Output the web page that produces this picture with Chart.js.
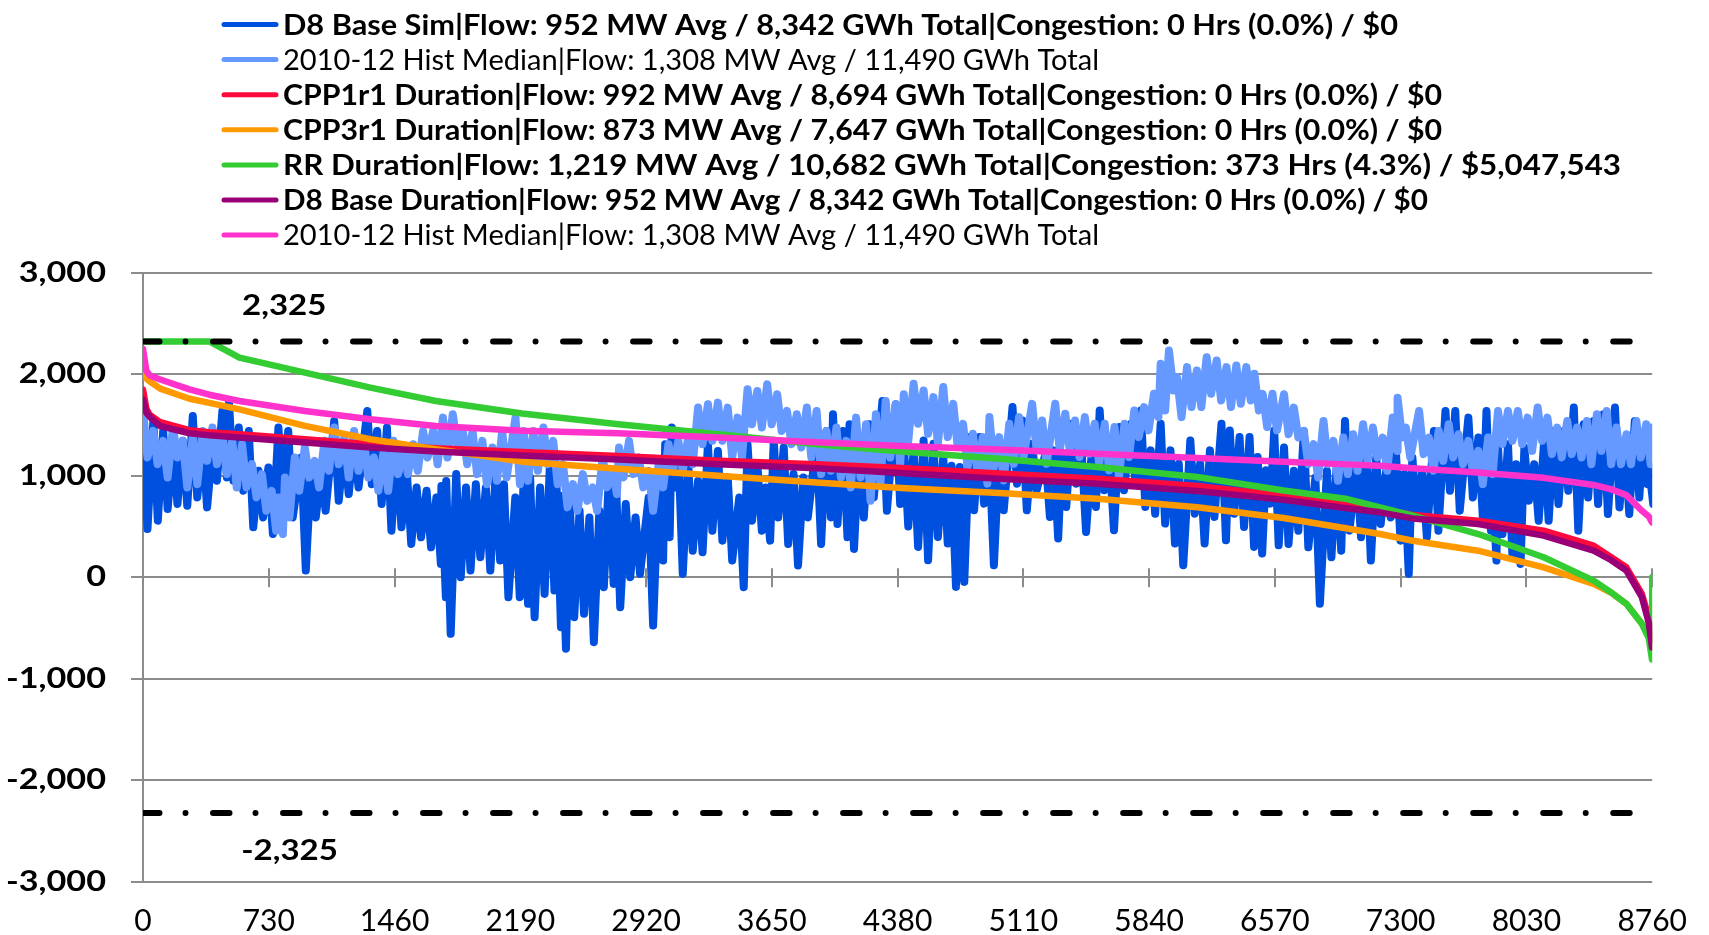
<!DOCTYPE html>
<html>
<head>
<meta charset="utf-8">
<title>Flow duration</title>
<script src="https://cdn.jsdelivr.net/npm/chart.js@4.4.1/dist/chart.umd.min.js"></script>
<style>
  html, body { margin: 0; padding: 0; background: #fff; }
</style>
</head>
<body>
<canvas id="flowChart" width="1709" height="935"></canvas>
<script>
// legend rows (top to bottom)
const seriesNames = [
    "D8 Base Sim|Flow: 952 MW Avg / 8,342 GWh Total|Congestion: 0 Hrs (0.0%) / $0",
    "2010-12 Hist Median|Flow: 1,308 MW Avg / 11,490 GWh Total",
    "CPP1r1 Duration|Flow: 992 MW Avg / 8,694 GWh Total|Congestion: 0 Hrs (0.0%) / $0",
    "CPP3r1 Duration|Flow: 873 MW Avg / 7,647 GWh Total|Congestion: 0 Hrs (0.0%) / $0",
    "RR Duration|Flow: 1,219 MW Avg / 10,682 GWh Total|Congestion: 373 Hrs (4.3%) / $5,047,543",
    "D8 Base Duration|Flow: 952 MW Avg / 8,342 GWh Total|Congestion: 0 Hrs (0.0%) / $0",
    "2010-12 Hist Median|Flow: 1,308 MW Avg / 11,490 GWh Total"
];
const seriesColors = ["#0050E0", "#6699FF", "#FF0A3C", "#FF9900", "#33CC33", "#990077", "#FF33CC"];
const boldRows = [true, false, true, true, true, true, false];

const xTicks = [0, 730, 1460, 2190, 2920, 3650, 4380, 5110, 5840, 6570, 7300, 8030, 8760];
const yTicks = [-3000, -2000, -1000, 0, 1000, 2000, 3000];

// transfer limit
const limitHours = [0, 8760];
const limitUpper = [2325, 2325];
const limitLower = [-2325, -2325];
const limitLabels = ["2,325", "-2,325"];

// D8 Base Sim, hourly flow: high / low swing read at each hour mark
const simHours = [0, 60, 117, 174, 231, 289, 346, 403, 461, 499, 556, 614, 671, 728, 786, 843, 919, 977, 1034, 1110,
    1168, 1225, 1302, 1359, 1416, 1474, 1531, 1588, 1646, 1703, 1732, 1760, 1818, 1875, 1932, 1990, 2047, 2095, 2161,
    2209, 2247, 2305, 2362, 2400, 2429, 2477, 2534, 2591, 2649, 2706, 2744, 2802, 2859, 2935, 2993, 3031, 3069, 3107, 3165,
    3222, 3279, 3337, 3394, 3461, 3509, 3566, 3614, 3661, 3719, 3776, 3833, 3910, 3967, 4005, 4063, 4101, 4158, 4216, 4292, 4369,
    4416, 4473, 4531, 4588, 4645, 4693, 4741, 4798, 4856, 4913, 4970, 5047, 5104, 5161, 5238, 5286, 5333, 5391, 5448, 5505,
    5553, 5610, 5668, 5735, 5792, 5849, 5907, 5964, 6012, 6079, 6136, 6193, 6260, 6308, 6365, 6423, 6470, 6518, 6566,
    6623, 6680, 6738, 6805, 6872, 6929, 6977, 7044, 7101, 7158, 7216, 7273, 7321, 7368, 7426, 7493, 7560, 7617, 7693, 7751,
    7798, 7830, 7865, 7923, 7970, 8018, 8075, 8133, 8190, 8247, 8305, 8362, 8420, 8477, 8544, 8601, 8659, 8706, 8740];
const simHigh = [1607, 1541, 1443, 1312, 1345, 1591, 1345, 1279, 1640, 1722, 1476, 1443, 1050, 1082, 1476, 1443, 1181, 1115, 1050, 1541,
    1312, 1345, 1640, 1443, 1476, 1279, 1050, 886, 853, 787, 900, 950, 1017, 886, 918, 886, 1017, 918, 787,
    951, 984, 886, 1115, 918, 800, 754, 656, 590, 656, 1050, 1017, 722, 590, 787, 984, 1312, 1476, 1279, 1115,
    951, 1312, 1246, 984, 787, 1312, 1115, 886, 1345, 1279, 1017, 984, 1345, 1443, 1607, 1443, 1509, 1378, 1509, 1738, 1706,
    1316, 1251, 1349, 1316, 1185, 1100, 1087, 1382, 1382, 1185, 1251, 1678, 1546, 1316, 1218, 1251, 1218, 1513, 1251, 1185,
    1645, 1185, 1481, 1513, 1645, 1251, 1513, 1251, 1119, 1349, 1119, 1251, 1513, 1448, 1382, 1382, 1185, 1054, 1448,
    1279, 1050, 1443, 984, 1050, 1115, 1541, 1115, 1279, 1181, 1050, 1214, 1017, 1181, 1050, 1443, 1640, 1640, 1574, 1378,
    1640, 1100, 1279, 1312, 1115, 1279, 1115, 1345, 1443, 1443, 1673, 1509, 1541, 1607, 1673, 1345, 1541, 1312, 1115];
const simLow = [476, 558, 672, 722, 705, 787, 689, 951, 984, 951, 853, 492, 590, 426, 787, 590, 66, 590, 656, 754,
    820, 886, 918, 722, 459, 492, 328, 394, 295, 131, -197, -558, 0, 66, 197, 66, 164, -197, -197,
    -262, -394, -164, -131, -492, -705, -394, -361, -640, -98, -66, -295, 0, 33, -476, 164, 394, 886, 33, 262,
    246, 459, 361, 164, -98, 558, 459, 361, 590, 328, 115, 590, 328, 590, 525, 394, 279, 590, 787, 656, 722,
    500, 299, 167, 397, 332, -95, -46, 660, 726, 118, 660, 923, 660, 857, 594, 381, 693, 923, 447, 693,
    857, 463, 857, 923, 693, 627, 529, 332, 118, 627, 332, 594, 364, 627, 496, 299, 233, 726, 315,
    328, 459, 295, -262, 197, 262, 459, 394, 164, 525, 590, 361, 33, 590, 394, 459, 853, 656, 787, 590,
    459, 164, 426, 197, 131, 754, 558, 558, 722, 853, 459, 787, 722, 623, 689, 623, 787, 918, 722];

// 2010-12 Hist Median, hourly flow
const histHours = [0, 59, 117, 174, 231, 289, 346, 403, 461, 518, 575, 633, 690, 747, 786, 824, 881, 939, 996, 1053,
    1110, 1168, 1225, 1282, 1340, 1397, 1454, 1512, 1569, 1626, 1684, 1741, 1798, 1856, 1913, 1970, 2028, 2085, 2162, 2209,
    2266, 2324, 2381, 2438, 2496, 2553, 2610, 2668, 2725, 2763, 2821, 2878, 2935, 2993, 3050, 3107, 3165, 3222, 3279, 3337,
    3394, 3451, 3509, 3566, 3623, 3681, 3738, 3795, 3853, 3910, 3967, 4025, 4082, 4139, 4197, 4254, 4311, 4369,
    4416, 4473, 4531, 4588, 4645, 4703, 4760, 4817, 4875, 4913, 4970, 5028, 5085, 5161, 5219, 5295, 5353, 5410, 5467, 5524,
    5582, 5639, 5697, 5754, 5811, 5868, 5907, 5955, 6002, 6060, 6117, 6174, 6232, 6289, 6346, 6404, 6451, 6499, 6556,
    6623, 6680, 6738, 6795, 6852, 6910, 6967, 7024, 7082, 7139, 7196, 7254, 7282, 7330, 7407, 7464, 7521, 7579, 7636, 7693,
    7751, 7808, 7865, 7923, 7980, 8037, 8095, 8152, 8209, 8267, 8324, 8381, 8439, 8496, 8553, 8611, 8668, 8725, 8755];
const histHigh = [1640, 1443, 1345, 1476, 1345, 1378, 1443, 1476, 1410, 1345, 1312, 1115, 1017, 853, 787, 984, 1181, 1279, 1148, 1345,
    1476, 1378, 1443, 1345, 1181, 1246, 1345, 1279, 1312, 1443, 1443, 1574, 1607, 1443, 1443, 1345, 1279, 1443, 1574, 1443,
    1443, 1476, 1345, 1115, 918, 1017, 886, 1181, 1050, 1279, 1345, 1181, 1050, 1115, 1312, 1345, 1378, 1673, 1706, 1722,
    1673, 1574, 1853, 1837, 1902, 1804, 1640, 1607, 1673, 1640, 1443, 1476, 1345, 1574, 1509, 1607, 1738, 1706,
    1804, 1907, 1842, 1776, 1875, 1710, 1513, 1415, 1382, 1579, 1382, 1513, 1579, 1710, 1546, 1710, 1612, 1546, 1579, 1513,
    1513, 1481, 1513, 1645, 1678, 1809, 2104, 2236, 1973, 2072, 2039, 2170, 2137, 2072, 2088, 2072, 2006, 1809, 1809,
    1804, 1673, 1443, 1312, 1541, 1345, 1378, 1410, 1509, 1476, 1378, 1574, 1771, 1476, 1640, 1378, 1443, 1509, 1410, 1345,
    1246, 1378, 1640, 1640, 1640, 1574, 1673, 1574, 1476, 1541, 1476, 1541, 1607, 1640, 1476, 1410, 1541, 1509, 1476];
const histLow = [1181, 1115, 984, 1181, 886, 918, 1148, 1115, 1017, 886, 886, 787, 656, 459, 426, 590, 853, 984, 886, 1050,
    1115, 984, 1050, 984, 853, 853, 1017, 1017, 1050, 1181, 1115, 1181, 1312, 1115, 1017, 918, 951, 984, 918, 951,
    1050, 1115, 918, 689, 656, 754, 656, 886, 820, 984, 1017, 886, 656, 886, 1050, 1050, 1115, 1312, 1345, 1345,
    1181, 1181, 1509, 1476, 1509, 1443, 1312, 1279, 1181, 1017, 1050, 984, 886, 984, 754, 918, 1181, 1115,
    1345, 1513, 1415, 1316, 1382, 1284, 1087, 1054, 923, 1087, 955, 1119, 1185, 1251, 1119, 1251, 1251, 1185, 1218, 1119,
    1054, 988, 1185, 1382, 1448, 1579, 1645, 1842, 1579, 1678, 1678, 1809, 1743, 1678, 1710, 1743, 1645, 1481, 1448,
    1410, 1378, 1115, 984, 1115, 951, 1017, 1050, 1148, 1181, 1050, 1246, 1378, 1181, 1214, 1050, 1148, 1181, 1115, 1050,
    918, 1017, 1312, 1345, 1312, 1246, 1345, 1214, 1181, 1214, 1181, 1115, 1246, 1115, 1115, 1115, 1181, 1115, 1214];

// duration curves (sorted flows)
const durHours = [0, 20, 40, 100, 270, 385, 560, 940, 1320, 1700, 2200, 2760, 3340, 3910, 4400, 4970,
    5540, 6120, 6620, 6990, 7180, 7370, 7750, 8130, 8420, 8520, 8610, 8700, 8740, 8759, 8760];
const cpp1Flow = [1850, 1660, 1600, 1530, 1450, 1430, 1410, 1361, 1312, 1273, 1235, 1195, 1148, 1115, 1078, 1022,
    972, 900, 805, 715, 672, 615, 558, 459, 312, 200, 98, -164, -400, -600, -600];
const cpp3Flow = [2050, 1960, 1930, 1860, 1760, 1720, 1656, 1492, 1361, 1263, 1140, 1070, 1000, 935, 880, 830,
    775, 690, 584, 480, 426, 360, 262, 98, -66, -150, -262, -459, -560, -640, -640];
const rrFlow = [2325, 2325, 2325, 2325, 2325, 2325, 2165, 2017, 1870, 1738, 1614, 1509, 1410, 1312, 1240, 1169,
    1087, 988, 855, 771, 689, 607, 426, 197, -33, -148, -262, -459, -600, -810, 0];
const d8DurFlow = [1750, 1620, 1580, 1490, 1420, 1400, 1378, 1328, 1279, 1240, 1200, 1160, 1115, 1075, 1027, 972,
    922, 850, 765, 680, 640, 580, 525, 410, 262, 170, 66, -197, -450, -690, -690];
const histDurFlow = [2250, 2034, 1990, 1950, 1853, 1800, 1738, 1640, 1558, 1492, 1445, 1420, 1378, 1330, 1293, 1260,
    1218, 1175, 1138, 1113, 1099, 1075, 1033, 980, 910, 869, 810, 656, 600, 541, 541];

const pairUp = (hours, vals) => hours.map((h, i) => ({ x: h, y: vals[i] }));
// each hour mark gives its high and then its low about half a step later
const swing = (hours, high, low) => hours.flatMap((h, i) => [{ x: h, y: high[i] }, { x: h + 26, y: low[i] }]);

const dashStyle = { borderColor: "#000", borderWidth: 6, borderDash: [16.5, 26, 0.01, 27.5], borderCapStyle: "round", order: 0 };

// text in the reference is drawn wide, so stretch it horizontally
function wideText(ctx, text, x, y, sx, align) {
    ctx.save();
    ctx.translate(x, y);
    ctx.scale(sx, 1);
    ctx.textAlign = align;
    ctx.fillText(text, 0, 0);
    ctx.restore();
}

const yLabels = {
    id: "yLabels",
    afterDraw(chart) {
        const { ctx, scales: { y } } = chart;
        ctx.save();
        ctx.font = "bold 28px Lato";
        ctx.fillStyle = "#000";
        ctx.textBaseline = "middle";
        yTicks.forEach(v => wideText(ctx, v.toLocaleString("en-US"), 106, y.getPixelForValue(v), 1.22, "right"));
        ctx.restore();
    }
};

const limitText = {
    id: "limitText",
    afterDatasetsDraw(chart) {
        const { ctx, scales: { x, y } } = chart;
        ctx.save();
        ctx.font = "bold 28px Lato";
        ctx.fillStyle = "#000";
        ctx.textBaseline = "middle";
        wideText(ctx, limitLabels[0], x.getPixelForValue(575), y.getPixelForValue(limitUpper[0]) - 35, 1.18, "left");
        wideText(ctx, limitLabels[1], x.getPixelForValue(570), y.getPixelForValue(limitLower[0]) + 38, 1.18, "left");
        ctx.restore();
    }
};

// small cross ticks on the zero line, like the excel axis
const zeroTicks = {
    id: "zeroTicks",
    beforeDatasetsDraw(chart) {
        const { ctx, scales: { x, y } } = chart;
        const y0 = y.getPixelForValue(0);
        ctx.save();
        ctx.strokeStyle = "#8c8c8c";
        ctx.lineWidth = 2;
        xTicks.forEach(t => {
            const px = Math.round(x.getPixelForValue(t));
            ctx.beginPath();
            ctx.moveTo(px, y0 - 9);
            ctx.lineTo(px, y0 + 10);
            ctx.stroke();
        });
        ctx.restore();
    }
};

const legendRows = {
    id: "legendRows",
    afterDraw(chart) {
        const ctx = chart.ctx;
        const rowEnds = [1398, 1099, 1442, 1442, 1621, 1428, 1099];
        ctx.save();
        seriesNames.forEach((name, i) => {
            const y = 24.5 + i * 35.1;
            ctx.strokeStyle = seriesColors[i];
            ctx.lineWidth = 5;
            ctx.lineCap = "round";
            ctx.beginPath();
            ctx.moveTo(224, y);
            ctx.lineTo(276, y);
            ctx.stroke();
            ctx.font = (boldRows[i] ? "bold " : "") + "28px Lato";
            ctx.fillStyle = "#000";
            ctx.textBaseline = "middle";
            const sx = (rowEnds[i] - 283) / ctx.measureText(name).width;
            wideText(ctx, name, 283, y + 1, sx, "left");
        });
        ctx.restore();
    }
};

new Chart(document.getElementById("flowChart"), {
    type: "line",
    data: {
        datasets: [
            { label: seriesNames[0], data: swing(simHours, simHigh, simLow), borderColor: seriesColors[0], borderWidth: 8, order: 7 },
            { label: seriesNames[1], data: swing(histHours, histHigh, histLow), borderColor: seriesColors[1], borderWidth: 8, order: 6 },
            { label: seriesNames[2], data: pairUp(durHours, cpp1Flow), borderColor: seriesColors[2], borderWidth: 6.5, order: 5 },
            { label: seriesNames[3], data: pairUp(durHours, cpp3Flow), borderColor: seriesColors[3], borderWidth: 6.5, order: 4 },
            { label: seriesNames[4], data: pairUp(durHours, rrFlow), borderColor: seriesColors[4], borderWidth: 6.5, order: 3 },
            { label: seriesNames[5], data: pairUp(durHours, d8DurFlow), borderColor: seriesColors[5], borderWidth: 6.5, order: 2 },
            { label: seriesNames[6], data: pairUp(durHours, histDurFlow), borderColor: seriesColors[6], borderWidth: 6.5, order: 1 },
            { label: "limit+", data: pairUp(limitHours, limitUpper), ...dashStyle },
            { label: "limit-", data: pairUp(limitHours, limitLower), ...dashStyle }
        ]
    },
    options: {
        responsive: false,
        animation: false,
        layout: { padding: { top: 273, right: 38, left: 0, bottom: 0 } },
        elements: {
            point: { radius: 0 },
            line: { tension: 0, fill: false, borderJoinStyle: "round", borderCapStyle: "round" }
        },
        plugins: {
            legend: { display: false },
            tooltip: { enabled: false }
        },
        scales: {
            x: {
                type: "linear",
                min: 0,
                max: 8760,
                afterBuildTicks: s => { s.ticks = xTicks.map(v => ({ value: v })); },
                afterFit: s => { s.height = 53.5; },
                grid: { display: false, drawTicks: false },
                border: { display: false },
                ticks: {
                    color: "#000",
                    font: { family: "Lato", size: 30 },
                    padding: 22,
                    maxRotation: 0,
                    autoSkip: false,
                    callback: v => String(v)
                }
            },
            y: {
                min: -3000,
                max: 3000,
                afterBuildTicks: s => { s.ticks = yTicks.map(v => ({ value: v })); },
                afterFit: s => { s.width = 143; },
                grid: { color: "#8c8c8c", lineWidth: 2, tickLength: 12 },
                border: { color: "#8c8c8c", width: 2 },
                ticks: { display: false }
            }
        }
    },
    plugins: [zeroTicks, limitText, yLabels, legendRows]
});
</script>
</body>
</html>
